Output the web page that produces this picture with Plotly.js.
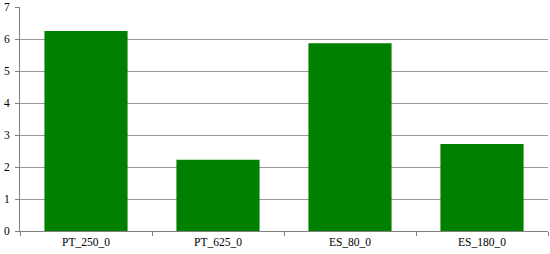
<!DOCTYPE html>
<html>
<head>
<meta charset="utf-8">
<script src="https://cdn.plot.ly/plotly-3.0.1.min.js"></script>
<style>
  html, body { margin: 0; padding: 0; background: #fff; }
  #chart { width: 550px; height: 254px; }
</style>
</head>
<body>
<div id="chart"></div>
<script>
// Values
const categories = ["PT_250_0", "PT_625_0", "ES_80_0", "ES_180_0"];
const values = [6.25, 2.23, 5.87, 2.72];
const yTicks = [0, 1, 2, 3, 4, 5, 6, 7];

const trace = {
    type: 'bar',
    x: categories,
    y: values,
    marker: { color: '#008000' },
    hoverinfo: 'x+y'
};

const layout = {
    width: 550,
    height: 254,
    margin: { l: 20, r: 2, t: 7, b: 23 },
    paper_bgcolor: '#ffffff',
    plot_bgcolor: '#ffffff',
    font: { family: 'Liberation Serif', size: 11.5, color: '#000' },
    showlegend: false,
    bargap: 0.37,
    xaxis: {
        type: 'category',
        tickson: 'boundaries',
        ticks: 'outside',
        ticklen: 4,
        tickcolor: '#808080',
        showline: true,
        linecolor: '#808080',
        linewidth: 1,
        showgrid: false,
        zeroline: false
    },
    yaxis: {
        range: [0, 7],
        tickvals: yTicks,
        ticks: 'outside',
        ticklen: 4,
        tickcolor: '#808080',
        showline: true,
        linecolor: '#808080',
        linewidth: 1,
        showgrid: true,
        gridcolor: '#999999',
        gridwidth: 1,
        zeroline: false,
        ticklabelstandoff: 3
    }
};

Plotly.newPlot('chart', [trace], layout, { displayModeBar: false, staticPlot: true });
</script>
</body>
</html>
